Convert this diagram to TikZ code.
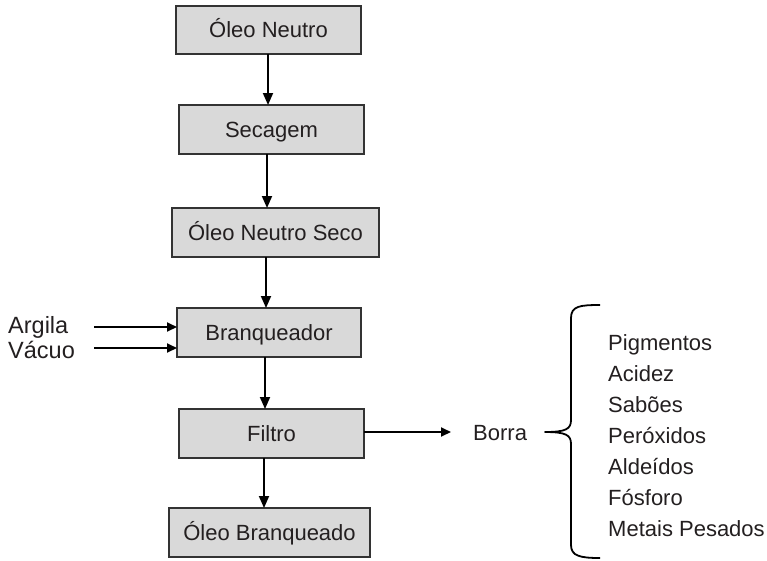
\documentclass[tikz,border=0pt]{standalone}
\usepackage{fontspec}
\setmainfont{Liberation Sans}
\usetikzlibrary{arrows.meta,calc}
\definecolor{boxfill}{HTML}{D9D9D9}
\definecolor{boxline}{HTML}{333333}
\definecolor{txt}{HTML}{231F20}
\tikzset{
  stepbox/.style={draw=boxline, fill=boxfill, line width=1.3pt, inner sep=0pt, outer sep=0pt,
    font=\fontsize{22}{26}\selectfont, text=txt, text height=15.8pt, text depth=0pt},
  arr/.style={draw=black, line width=1.8pt, -{Triangle[length=12pt,width=10pt]}},
  harr/.style={draw=black, line width=1.8pt, -{Triangle[length=10pt,width=9pt]}},
  sidelbl/.style={font=\fontsize{23.5}{28}\selectfont, text=txt, inner sep=0pt, anchor=base west},
  listlbl/.style={font=\fontsize{22}{26}\selectfont, text=txt, inner sep=0pt, anchor=base west},
}
\begin{document}
\begin{tikzpicture}[x=1pt,y=-1pt]
\useasboundingbox (0,0) rectangle (767,560);
% boxes
\node[stepbox, minimum width=185pt, minimum height=48pt] (n1) at (268.5,30) {Óleo Neutro};
\node[stepbox, minimum width=185pt, minimum height=49pt] (n2) at (271.5,129.5) {Secagem};
\node[stepbox, minimum width=207pt, minimum height=49pt] (n3) at (275.5,232.5) {Óleo Neutro Seco};
\node[stepbox, minimum width=184pt, minimum height=49pt] (n4) at (269,332.5) {Branqueador};
\node[stepbox, minimum width=185pt, minimum height=49pt] (n5) at (271.5,433.5) {Filtro};
\node[stepbox, minimum width=201pt, minimum height=49pt] (n6) at (269.5,532.5) {Óleo Branqueado};
% arrow columns
\coordinate (a1) at (268,0);
\coordinate (a2) at (267,0);
\coordinate (a3) at (266,0);
\coordinate (a4) at (265,0);
\coordinate (a5) at (264,0);
\draw[arr] (n1.south -| a1) -- (n2.north -| a1);
\draw[arr] (n2.south -| a2) -- (n3.north -| a2);
\draw[arr] (n3.south -| a3) -- (n4.north -| a3);
\draw[arr] (n4.south -| a4) -- (n5.north -| a4);
\draw[arr] (n5.south -| a5) -- (n6.north -| a5);
% inputs
\node[sidelbl] (arg) at (8,333) {Argila};
\node[sidelbl] (vac) at (8,358) {Vácuo};
\coordinate (s1) at (94,327);
\coordinate (s2) at (94,348);
\draw[harr] (s1) -- (s1 -| n4.west);
\draw[harr] (s2) -- (s2 -| n4.west);
% output
\node[listlbl] (borra) at (473,440) {Borra};
\coordinate (bt) at (451,432);
\draw[harr] (n5.east |- bt) -- (bt);
% brace
\coordinate (tip) at (545,432);
\draw[line width=1.8pt, line join=round]
  (600,305) .. controls (580,305) and (571,306) .. (571,318) -- (571,420)
  .. controls (571,429) and (566,432) .. (tip)
  .. controls (566,432) and (571,435) .. (571,444) -- (571,545)
  .. controls (571,556) and (580,558) .. (600,558);
% list
\node[listlbl] (l1) at (608,350) {Pigmentos};
\node[listlbl] (l2) at (608,381) {Acidez};
\node[listlbl] (l3) at (608,412) {Sabões};
\node[listlbl] (l4) at (608,443) {Peróxidos};
\node[listlbl] (l5) at (608,474) {Aldeídos};
\node[listlbl] (l6) at (608,505) {Fósforo};
\node[listlbl] (l7) at (608,536) {Metais Pesados};
\end{tikzpicture}
\end{document}
